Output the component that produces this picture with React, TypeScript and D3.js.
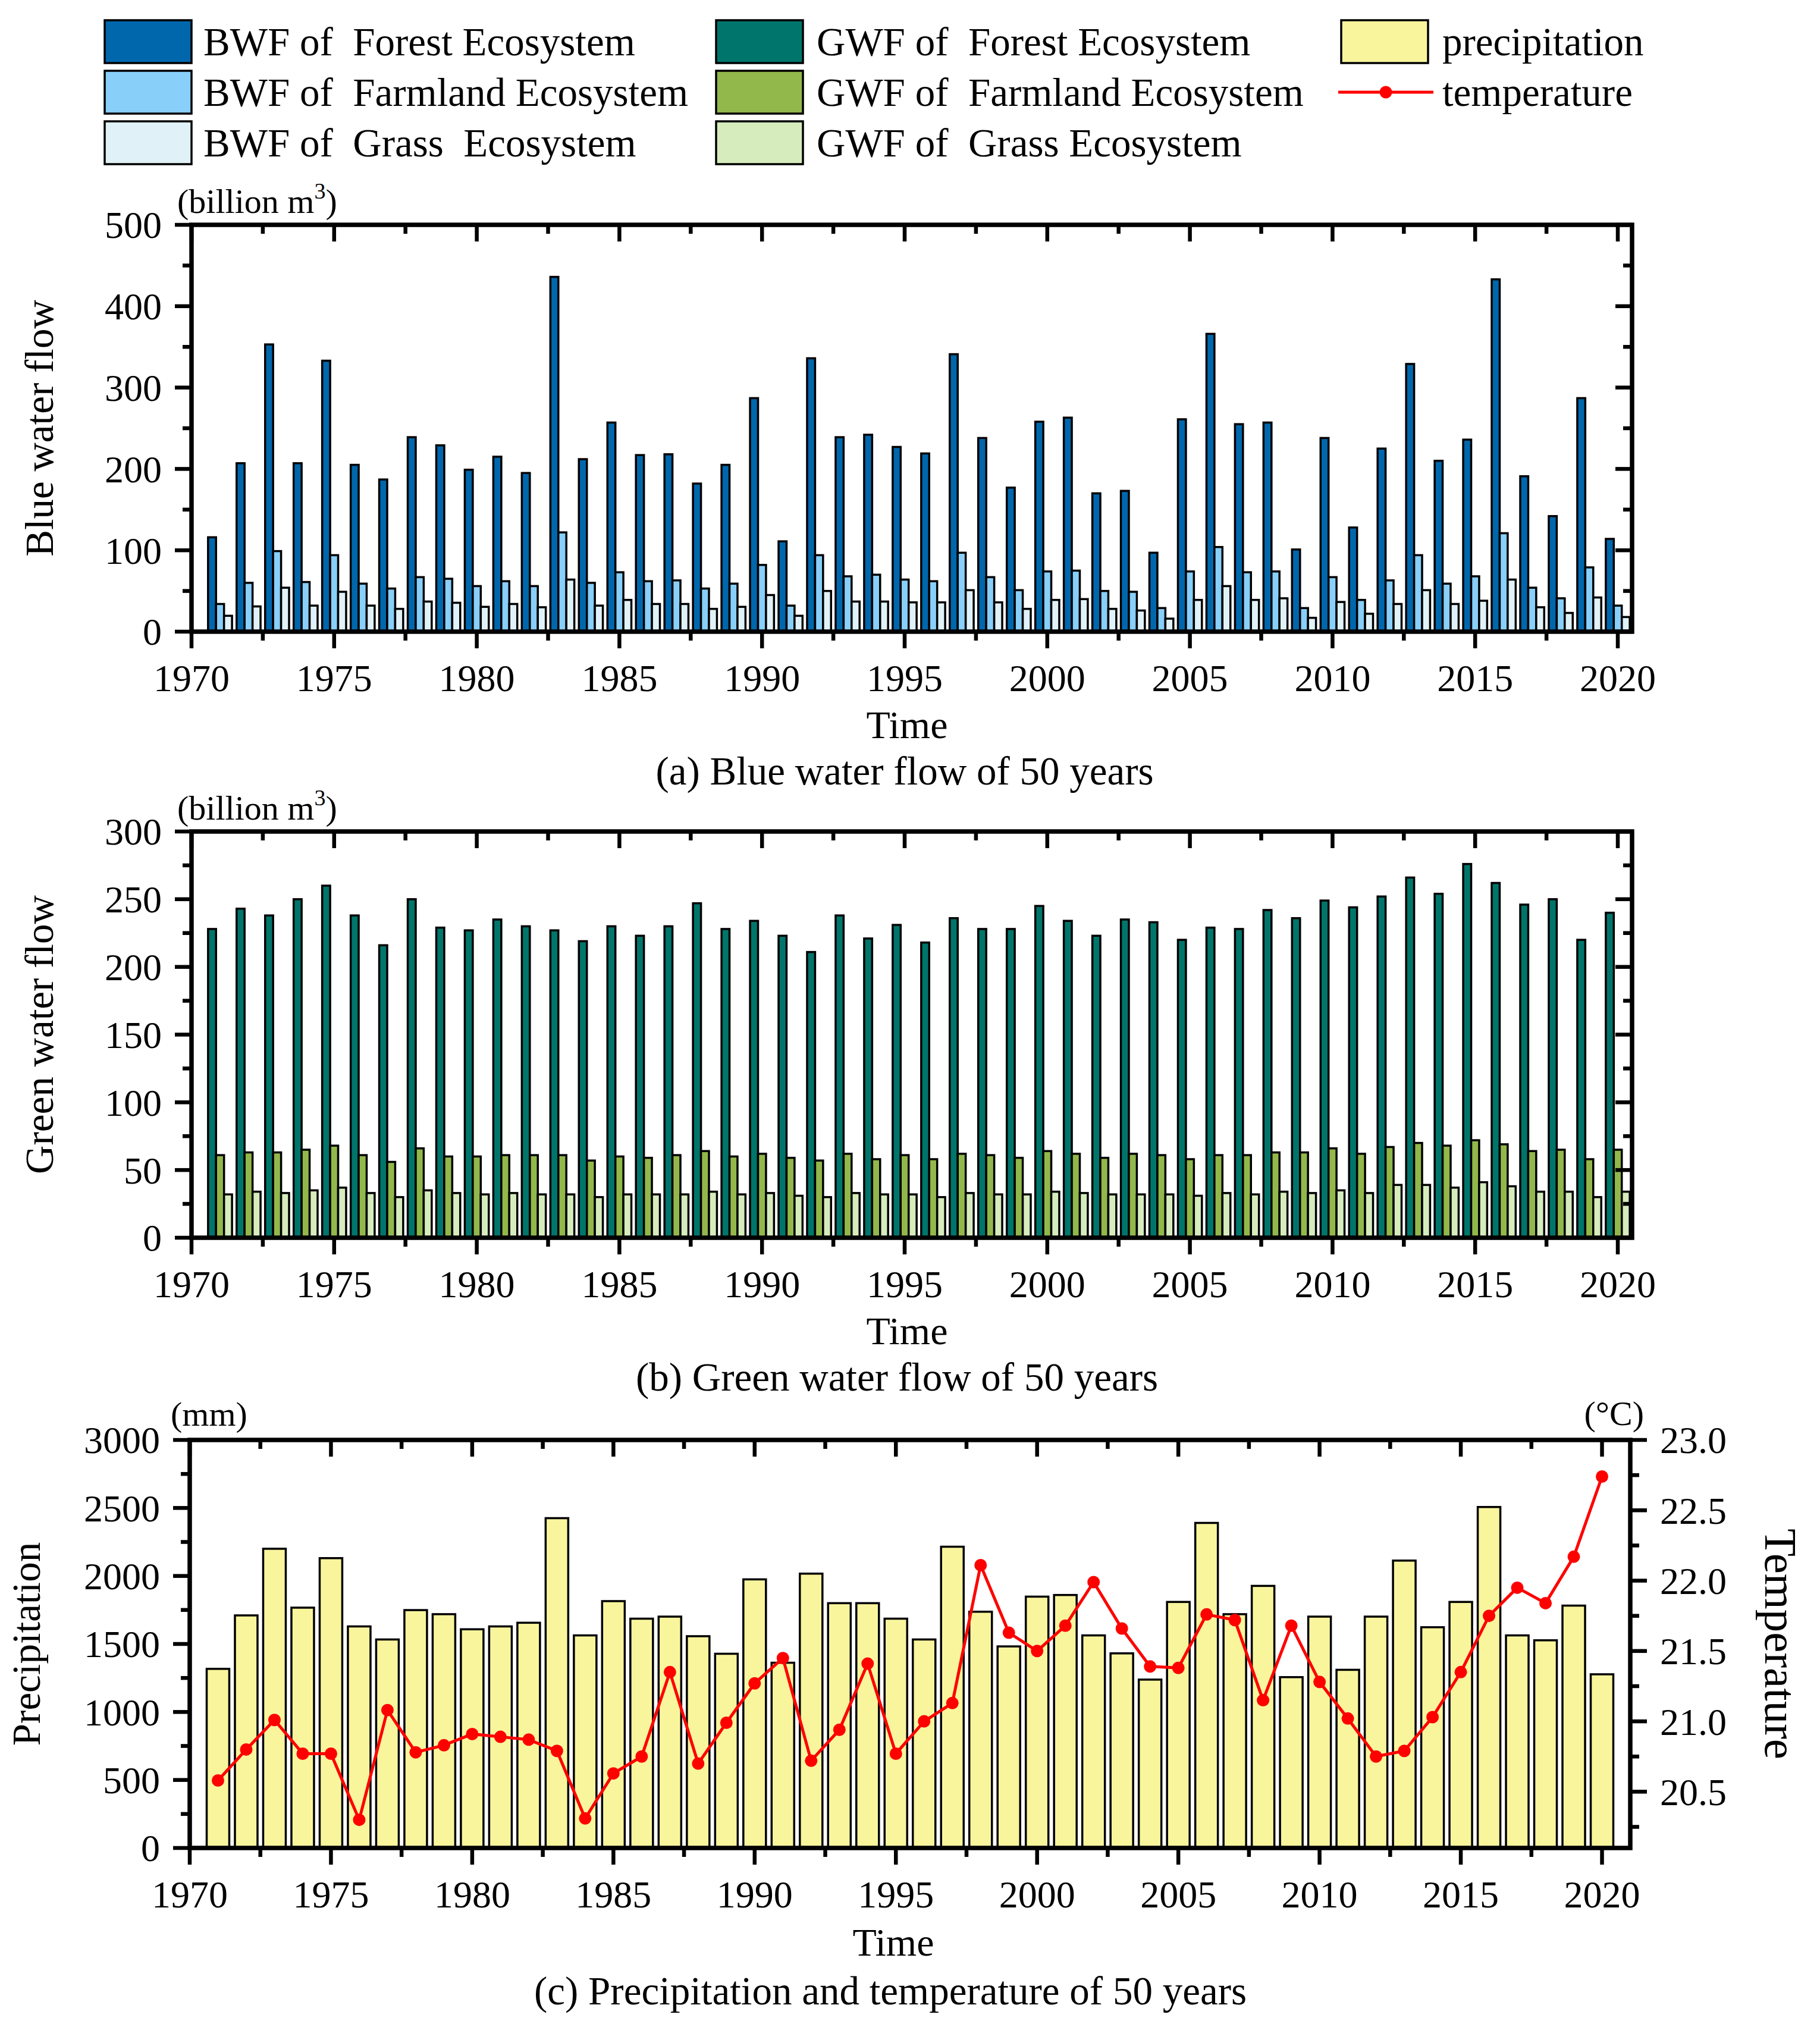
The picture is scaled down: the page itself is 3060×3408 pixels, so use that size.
import React from "react";
import * as d3 from "d3";

// years shown on every panel
const years = d3.range(1971, 2021);

// (a) blue water flow, billion m3
const bwfForest = [116, 207, 353, 207, 333, 205, 187, 239, 229, 199, 215, 195, 436, 212, 257, 217, 218, 182, 205, 287, 111, 336, 239, 242, 227, 219, 341, 238, 177, 258, 263, 170, 173, 97, 261, 366, 255, 257, 101, 238, 128, 225, 329, 210, 236, 433, 191, 142, 287, 114];
const bwfFarmland = [34, 60, 99, 61, 94, 59, 53, 67, 65, 56, 62, 56, 122, 60, 73, 62, 63, 53, 59, 82, 32, 94, 68, 70, 64, 62, 97, 67, 51, 74, 75, 50, 49, 29, 74, 104, 73, 74, 29, 67, 39, 63, 94, 59, 68, 121, 54, 41, 79, 32];
const bwfGrass = [19.5, 31, 54, 32, 49, 32, 28, 37, 35.5, 30.5, 34, 30, 64, 32, 39, 34, 34, 28, 30.5, 45, 19.5, 50, 37, 37, 36, 36, 51, 36, 28, 39, 40, 28, 26, 16, 39, 56, 39, 41, 17, 36.5, 22, 34, 51, 34, 38, 64, 30, 23, 42, 18];

// (b) green water flow, billion m3
const gwfForest = [228, 243, 238, 250, 260, 238, 216, 250, 229, 227, 235, 230, 227, 219, 230, 223, 230, 247, 228, 234, 223, 211, 238, 221, 231, 218, 236, 228, 228, 245, 234, 223, 235, 233, 220, 229, 228, 242, 236, 249, 244, 252, 266, 254, 276, 262, 246, 250, 220, 240];
const gwfFarmland = [61, 63, 63, 65, 68, 61, 56, 66, 60, 60, 61, 61, 61, 57, 60, 59, 61, 64, 60, 62, 59, 57, 62, 58, 61, 58, 62, 61, 59, 64, 62, 59, 62, 61, 58, 61, 61, 63, 63, 66, 62, 67, 70, 68, 72, 69, 64, 65, 58, 65];
const gwfGrass = [32, 34, 33, 35, 37, 33, 30, 35, 33, 32, 33, 32, 32, 30, 32, 32, 32, 34, 32, 33, 31, 30, 33, 32, 32, 30, 33, 32, 32, 34, 33, 32, 32, 32, 31, 33, 32, 34, 33, 35, 33, 39, 39, 37, 41, 38, 34, 34, 30, 34];

// (c) precipitation (mm) and temperature (°C)
const precipitation = [1317, 1710, 2200, 1767, 2131, 1629, 1533, 1749, 1719, 1608, 1629, 1656, 2425, 1563, 1815, 1686, 1701, 1557, 1428, 1975, 1362, 2017, 1800, 1800, 1686, 1533, 2215, 1737, 1482, 1848, 1860, 1563, 1431, 1238, 1809, 2390, 1719, 1927, 1256, 1701, 1310, 1701, 2113, 1623, 1809, 2507, 1563, 1527, 1782, 1277];
const temperature = [20.58, 20.8, 21.01, 20.77, 20.77, 20.3, 21.08, 20.78, 20.83, 20.91, 20.89, 20.87, 20.79, 20.31, 20.63, 20.75, 21.35, 20.7, 20.99, 21.27, 21.45, 20.72, 20.94, 21.41, 20.77, 21.0, 21.13, 22.11, 21.63, 21.5, 21.68, 21.99, 21.66, 21.39, 21.38, 21.76, 21.72, 21.15, 21.68, 21.28, 21.02, 20.75, 20.79, 21.03, 21.35, 21.75, 21.95, 21.84, 22.17, 22.74];

const blueNames = ["BWF of  Forest Ecosystem", "BWF of  Farmland Ecosystem", "BWF of  Grass  Ecosystem"];
const greenNames = ["GWF of  Forest Ecosystem", "GWF of  Farmland Ecosystem", "GWF of  Grass Ecosystem"];
const blueColors = ["#0067AC", "#88CFFA", "#E0F2F8"];
const greenColors = ["#00756B", "#92B84B", "#D6ECBD"];
const precipColor = "#F9F59D";
const red = "#FF0000";

const FONT = "'Liberation Serif', 'Times New Roman', serif";
const AXIS_W = 7.5;
const TICK_W = 6.5;
const MAJOR = 28;
const MINOR = 15;

type Frame = { left: number; right: number; top: number; bottom: number };

function XTicks({ x, f, labels = true }: { x: d3.ScaleLinear<number, number>; f: Frame; labels?: boolean }) {
  const major = d3.range(1970, 2021, 5);
  const minor = d3.range(1972.5, 2020, 5);
  return (
    <g>
      {major.map((t) => (
        <g key={"M" + t}>
          <line x1={x(t)} x2={x(t)} y1={f.bottom} y2={f.bottom + MAJOR} stroke="#000" strokeWidth={TICK_W} />
          <line x1={x(t)} x2={x(t)} y1={f.top} y2={f.top + MAJOR} stroke="#000" strokeWidth={TICK_W} />
          {labels && (
            <text x={x(t)} y={f.bottom + 100} textAnchor="middle" fontSize={64}>
              {t}
            </text>
          )}
        </g>
      ))}
      {minor.map((t) => (
        <g key={"m" + t}>
          <line x1={x(t)} x2={x(t)} y1={f.bottom} y2={f.bottom + MINOR} stroke="#000" strokeWidth={TICK_W} />
          <line x1={x(t)} x2={x(t)} y1={f.top} y2={f.top + MINOR} stroke="#000" strokeWidth={TICK_W} />
        </g>
      ))}
    </g>
  );
}

function YTicks({
  y, major, minor, xPos, dir, mirror, fmt,
}: {
  y: d3.ScaleLinear<number, number>;
  major: number[];
  minor: number[];
  xPos: number;
  dir: number; // -1 pointing left, +1 pointing right
  mirror?: boolean;
  fmt?: (v: number) => string;
}) {
  return (
    <g>
      {major.map((t) => (
        <g key={"M" + t}>
          <line x1={xPos} x2={xPos + dir * MAJOR} y1={y(t)} y2={y(t)} stroke="#000" strokeWidth={TICK_W} />
          {!mirror && (
            <text
              x={xPos + dir * 50}
              y={y(t)}
              dy="0.35em"
              textAnchor={dir < 0 ? "end" : "start"}
              fontSize={64}
            >
              {fmt ? fmt(t) : t}
            </text>
          )}
        </g>
      ))}
      {minor.map((t) => (
        <line key={"m" + t} x1={xPos} x2={xPos + dir * MINOR} y1={y(t)} y2={y(t)} stroke="#000" strokeWidth={TICK_W} />
      ))}
    </g>
  );
}

function Unit({ x, y }: { x: number; y: number }) {
  return (
    <text x={x} y={y} fontSize={58}>
      (billion m<tspan dy={-24} fontSize={38}>3</tspan>
      <tspan dy={24}>)</tspan>
    </text>
  );
}

function GroupedBars({
  f, yMax, step, series, colors, title, caption, captionX,
}: {
  f: Frame;
  yMax: number;
  step: number;
  series: number[][];
  colors: string[];
  title: string;
  caption: string;
  captionX: number;
}) {
  const x = d3.scaleLinear().domain([1970, 2020.5]).range([f.left, f.right]);
  const y = d3.scaleLinear().domain([0, yMax]).range([f.bottom, f.top]);
  const bw = 0.28;
  const major = d3.range(0, yMax + 1, step);
  const minor = d3.range(step / 2, yMax, step);
  return (
    <g>
      {series.map((vals, si) =>
        vals.map((v, i) => {
          const x0 = x(years[i] - 1.5 * bw + si * bw);
          const x1 = x(years[i] - 1.5 * bw + (si + 1) * bw);
          return (
            <rect
              key={si + "-" + i}
              x={x0}
              y={y(v)}
              width={x1 - x0}
              height={y(0) - y(v)}
              fill={colors[si]}
              stroke="#000"
              strokeWidth={3.5}
            />
          );
        })
      )}
      <XTicks x={x} f={f} />
      <YTicks y={y} major={major} minor={minor} xPos={f.left} dir={-1} />
      <YTicks y={y} major={major} minor={minor} xPos={f.right} dir={-1} mirror />
      <rect x={f.left} y={f.top} width={f.right - f.left} height={f.bottom - f.top} fill="none" stroke="#000" strokeWidth={AXIS_W} />
      <Unit x={298} y={f.top - 20} />
      <text transform={`translate(89,${(f.top + f.bottom) / 2}) rotate(-90)`} textAnchor="middle" fontSize={67}>
        {title}
      </text>
      <text x={1525} y={f.bottom + 179} textAnchor="middle" fontSize={66}>
        Time
      </text>
      <text x={captionX} y={f.bottom + 257} textAnchor="middle" fontSize={67}>
        {caption}
      </text>
    </g>
  );
}

function ClimatePanel({ f }: { f: Frame }) {
  const x = d3.scaleLinear().domain([1970, 2021]).range([f.left, f.right]);
  const yP = d3.scaleLinear().domain([0, 3000]).range([f.bottom, f.top]);
  const yT = d3.scaleLinear().domain([20.1, 23.0]).range([f.bottom, f.top]);
  const bw = 0.8;
  const line = d3
    .line<number>()
    .x((_, i) => x(years[i]))
    .y((d) => yT(d));
  return (
    <g>
      {precipitation.map((v, i) => (
        <rect
          key={i}
          x={x(years[i] - bw / 2)}
          y={yP(v)}
          width={x(years[i] + bw / 2) - x(years[i] - bw / 2)}
          height={yP(0) - yP(v)}
          fill={precipColor}
          stroke="#000"
          strokeWidth={3.5}
        />
      ))}
      <path d={line(temperature) || ""} fill="none" stroke={red} strokeWidth={5} />
      {temperature.map((t, i) => (
        <circle key={i} cx={x(years[i])} cy={yT(t)} r={10.5} fill={red} />
      ))}
      <XTicks x={x} f={f} />
      <YTicks y={yP} major={d3.range(0, 3001, 500)} minor={d3.range(250, 3000, 500)} xPos={f.left} dir={-1} />
      <YTicks
        y={yT}
        major={d3.range(20.5, 23.01, 0.5)}
        minor={d3.range(20.25, 23, 0.5)}
        xPos={f.right}
        dir={1}
        fmt={(v) => v.toFixed(1)}
      />
      <rect x={f.left} y={f.top} width={f.right - f.left} height={f.bottom - f.top} fill="none" stroke="#000" strokeWidth={AXIS_W} />
      <text x={287} y={f.top - 24} fontSize={58}>
        (mm)
      </text>
      <text x={2764} y={f.top - 25} textAnchor="end" fontSize={58}>
        (°C)
      </text>
      <text transform={`translate(67,${(f.top + f.bottom) / 2}) rotate(-90)`} textAnchor="middle" fontSize={67}>
        Precipitation
      </text>
      <text transform={`translate(2968,${(f.top + f.bottom) / 2}) rotate(90)`} textAnchor="middle" fontSize={77}>
        Temperature
      </text>
      <text x={1502} y={f.bottom + 181} textAnchor="middle" fontSize={66}>
        Time
      </text>
      <text x={1497} y={f.bottom + 263} textAnchor="middle" fontSize={67}>
        (c) Precipitation and temperature of 50 years
      </text>
    </g>
  );
}

function Legend() {
  const rowsY = [70, 155, 240];
  const cols = [
    { sx: 176, tx: 342, names: blueNames, colors: blueColors },
    { sx: 1204, tx: 1373, names: greenNames, colors: greenColors },
  ];
  return (
    <g fontSize={67}>
      {cols.map((c) =>
        c.names.map((n, i) => (
          <g key={n}>
            <rect x={c.sx} y={rowsY[i] - 36} width={146} height={72} fill={c.colors[i]} stroke="#000" strokeWidth={3.5} />
            <text x={c.tx} y={rowsY[i] + 23} xmlSpace="preserve" style={{ whiteSpace: "pre" }}>
              {n}
            </text>
          </g>
        ))
      )}
      <rect x={2255} y={rowsY[0] - 36} width={146} height={72} fill={precipColor} stroke="#000" strokeWidth={3.5} />
      <text x={2425} y={rowsY[0] + 23}>
        precipitation
      </text>
      <line x1={2250} x2={2410} y1={rowsY[1]} y2={rowsY[1]} stroke={red} strokeWidth={5} />
      <circle cx={2330} cy={rowsY[1]} r={10.5} fill={red} />
      <text x={2425} y={rowsY[1] + 23}>
        temperature
      </text>
    </g>
  );
}

export default function App() {
  return (
    <svg
      width={3060}
      height={3408}
      viewBox="0 0 3060 3408"
      style={{ position: "absolute", left: 0, top: 0, background: "#fff" }}
      fontFamily={FONT}
    >
      <rect width={3060} height={3408} fill="#fff" />
      <Legend />
      <GroupedBars
        f={{ left: 322, right: 2744, top: 378, bottom: 1062 }}
        yMax={500}
        step={100}
        series={[bwfForest, bwfFarmland, bwfGrass]}
        colors={blueColors}
        title="Blue water flow"
        caption="(a) Blue water flow of 50 years"
        captionX={1521}
      />
      <GroupedBars
        f={{ left: 322, right: 2744, top: 1398, bottom: 2081 }}
        yMax={300}
        step={50}
        series={[gwfForest, gwfFarmland, gwfGrass]}
        colors={greenColors}
        title="Green water flow"
        caption="(b) Green water flow of 50 years"
        captionX={1508}
      />
      <ClimatePanel f={{ left: 319, right: 2741, top: 2421, bottom: 3107 }} />
    </svg>
  );
}
